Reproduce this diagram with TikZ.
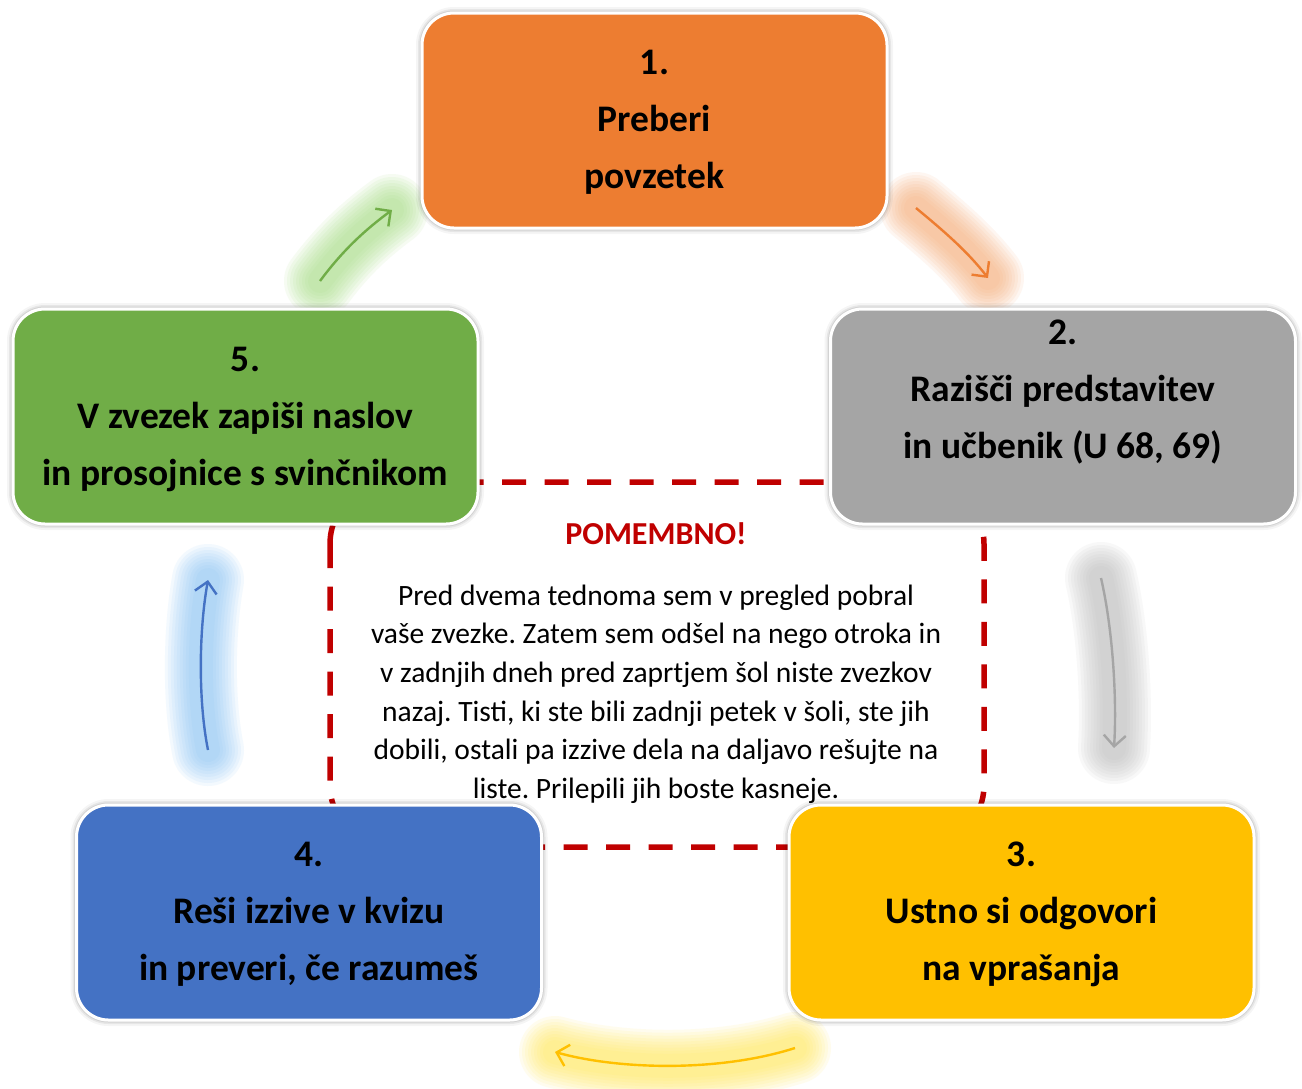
\documentclass[tikz,border=0pt]{standalone}
\usepackage{fontspec}
\setmainfont{Carlito}
\usetikzlibrary{arrows.meta}
\definecolor{cor}{HTML}{ED7D31}
\definecolor{cgr}{HTML}{A5A5A5}
\definecolor{cye}{HTML}{FFC000}
\definecolor{cbl}{HTML}{4472C4}
\definecolor{cgn}{HTML}{70AD47}
\definecolor{cred}{HTML}{C00000}
\definecolor{gor}{HTML}{F8A46A}
\definecolor{ggr}{HTML}{B5B5B5}
\definecolor{gye}{HTML}{FFE84A}
\definecolor{gbl}{HTML}{7DBDF5}
\definecolor{ggn}{HTML}{9CDB78}
\tikzset{
  stepbox/.style={draw=white, line width=3pt, rounded corners=32pt,
    minimum width=465pt, minimum height=215pt, inner sep=0pt,
    preaction={draw=black, draw opacity=0.04, line width=12pt},
    preaction={draw=black, draw opacity=0.06, line width=8pt},
    preaction={draw=black, draw opacity=0.08, line width=5pt}},
  steplabel/.style={align=center, font=\fontsize{37.5}{57}\selectfont\bfseries, text=black},
  gl/.style 2 args={preaction={draw=#1, draw opacity=0.09, line width=#2, line cap=round, arrows=-}},
  glow/.style={gl={#1}{72pt}, gl={#1}{66pt}, gl={#1}{60pt}, gl={#1}{54pt}, gl={#1}{48pt},
    gl={#1}{42pt}, gl={#1}{36pt}, gl={#1}{30pt}, gl={#1}{24pt}},
  cyc/.style={line width=2.4pt, -{Straight Barb[length=11pt,width=22pt,line width=2.4pt]}},
  dashframe/.style={draw=cred, line width=5.5pt, dash pattern=on 24pt off 18.5pt, rounded corners=62pt}
}
\begin{document}
\frenchspacing
\begin{tikzpicture}[x=1pt,y=-1pt]
\useasboundingbox (0,0) rectangle (1302,1088);
\fill[white] (0,0) rectangle (1302,1088);

% dashed frame
\draw[dashframe] (330,482) rectangle (984,847);

% glow arrows
\coordinate (ga1) at (320,281); \coordinate (ga2) at (392,210);
\coordinate (oa1) at (916,208); \coordinate (oa2) at (988,278);
\coordinate (ya1) at (1101,578); \coordinate (ya2) at (1114,748);
\coordinate (yb1) at (795,1048); \coordinate (yb2) at (555,1052);
\coordinate (ba1) at (208,750); \coordinate (ba2) at (208,580);

\draw[glow=ggn, cgn, cyc] (ga1) .. controls (343,250) and (365,230) .. (ga2);
\draw[glow=gor, cor, cyc] (oa1) .. controls (945,232) and (968,252) .. (oa2);
\draw[glow=ggr, cgr, cyc] (ya1) .. controls (1113,630) and (1117,700) .. (ya2);
\draw[glow=gye, cye, cyc] (yb1) .. controls (720,1072) and (620,1070) .. (yb2);
\draw[glow=gbl, cbl, cyc] (ba1) .. controls (198,700) and (199,630) .. (ba2);

% boxes
\node[stepbox, fill=cor] (b1) at (654.5,120.5) {};
\node[stepbox, fill=cgr] (b2) at (1063,416.5) {};
\node[stepbox, fill=cye] (b3) at (1021.5,912.5) {};
\node[stepbox, fill=cbl] (b4) at (309,912.5) {};
\node[stepbox, fill=cgn] (b5) at (245.5,416.5) {};

\node[steplabel] (t1) at (654.5,122.5) {1.\\Preberi\\povzetek};
\node[steplabel] (t2) at (1063,392) {2.\\Razišči predstavitev\\in učbenik (U 68, 69)};
\node[steplabel] (t3) at (1021.5,914.5) {3.\\Ustno si odgovori\\na vprašanja};
\node[steplabel] (t4) at (309,914.5) {4.\\Reši izzive v kvizu\\in preveri, če razumeš};
\node[steplabel] (t5) at (245.5,419) {5.\\V zvezek zapiši naslov\\in prosojnice s svinčnikom};

% note
\node[font=\fontsize{32}{36}\selectfont\bfseries, text=cred] (pom) at (656,534) {POMEMBNO!};
\node[align=center, font=\fontsize{29.5}{38.6}\selectfont] (body) at (656,694)
 {Pred dvema tednoma sem v pregled pobral\\
  vaše zvezke. Zatem sem odšel na nego otroka in\\
  v zadnjih dneh pred zaprtjem šol niste zvezkov\\
  nazaj. Tisti, ki ste bili zadnji petek v šoli, ste jih\\
  dobili, ostali pa izzive dela na daljavo rešujte na\\
  liste. Prilepili jih boste kasneje.};
\end{tikzpicture}
\end{document}
